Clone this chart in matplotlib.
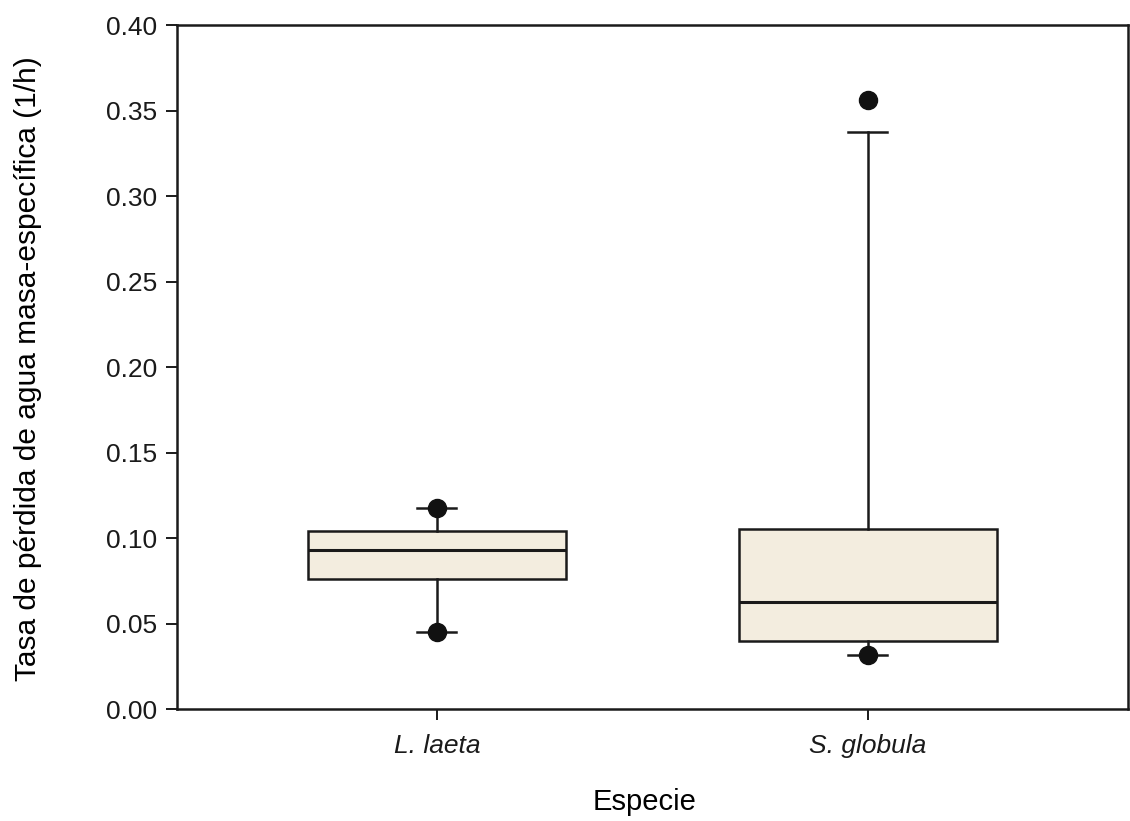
import matplotlib.pyplot as plt

plt.rcParams['font.family'] = ['Liberation Sans', 'DejaVu Sans']

# box statistics per species (whiskers at 10th/90th, dots at 5th/95th)
species = ["L. laeta", "S. globula"]
q1 = [0.076, 0.040]
median = [0.093, 0.0626]
q3 = [0.104, 0.105]
whisker_low = [0.045, 0.0316]
whisker_high = [0.1175, 0.3374]
outliers = [[0.045, 0.1175], [0.0316, 0.356]]

stats = []
for i in range(len(species)):
    stats.append({
        "label": species[i],
        "q1": q1[i],
        "med": median[i],
        "q3": q3[i],
        "whislo": whisker_low[i],
        "whishi": whisker_high[i],
        "fliers": outliers[i],
    })

fig = plt.figure(figsize=(11.3, 8.21), dpi=100)
ax = fig.add_axes([0.1566, 0.1364, 0.8414, 0.8331])

ax.bxp(
    stats,
    positions=[1, 2],
    widths=0.6,
    patch_artist=True,
    boxprops=dict(facecolor="#f3eddf", edgecolor="#1a1a1a", linewidth=1.8),
    medianprops=dict(color="#1a1a1a", linewidth=2.2),
    whiskerprops=dict(color="#1a1a1a", linewidth=1.8),
    capprops=dict(color="#1a1a1a", linewidth=1.8),
    capwidths=0.09,
    flierprops=dict(marker="o", markerfacecolor="#111111", markeredgecolor="#111111", markersize=13),
)

ax.set_xlim(0.397, 2.603)
ax.set_ylim(0, 0.40)
ax.set_yticks([0.0, 0.05, 0.10, 0.15, 0.20, 0.25, 0.30, 0.35, 0.40])
ax.set_yticklabels(["%.2f" % v for v in ax.get_yticks()], fontsize=19)
ax.set_xticks([1, 2])
ax.set_xticklabels(species, fontsize=19, style="italic")
ax.tick_params(axis="both", direction="out", length=8, width=1.4, colors="#1a1a1a")
ax.tick_params(axis="x", pad=10)
ax.tick_params(axis="y", pad=6)
for s in ax.spines.values():
    s.set_linewidth(1.8)
    s.set_color("#1a1a1a")

ax.set_ylabel("Tasa de pérdida de agua masa-específica (1/h)", fontsize=21.5)
ax.yaxis.set_label_coords(-0.142, 0.497)
ax.set_xlabel("Especie", fontsize=21)
ax.xaxis.set_label_coords(0.492, -0.115)

fig.savefig("out.png", dpi=100)
